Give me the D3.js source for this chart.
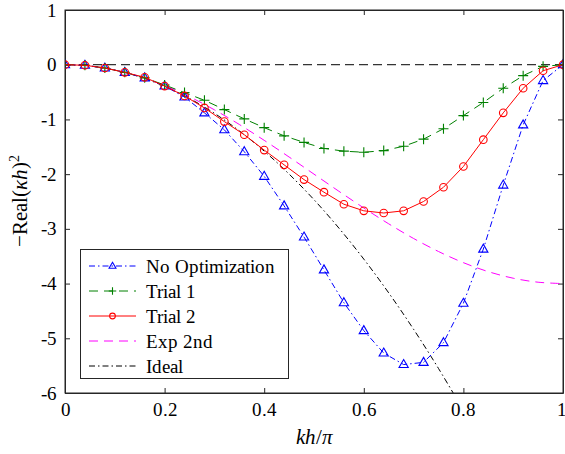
<!DOCTYPE html>
<html><head><meta charset="utf-8">
<script src="https://cdn.jsdelivr.net/npm/d3@7"></script>
<style>
@font-face{font-family:"ChartSerif";src:local("Liberation Serif"),local("LiberationSerif"),local("Times New Roman");font-style:normal;font-weight:400;}
@font-face{font-family:"ChartSerif";src:local("Liberation Serif Italic"),local("LiberationSerif-Italic"),local("Times New Roman Italic");font-style:italic;font-weight:400;}
body{margin:0;background:#fff}
#c text{font-family:"ChartSerif","Liberation Serif";}
</style>
</head><body>
<svg id="c" width="565" height="454" style="display:block;font-family:'Liberation Serif'"></svg>
<script>
const xMarks = [0,0.04,0.08,0.12,0.16,0.2,0.24,0.28,0.32,0.36,0.4,0.44,0.48,0.52,0.56,0.6,0.64,0.68,0.72,0.76,0.8,0.84,0.88,0.92,0.96,1.0];
const noOpt  = [0,-0.01,-0.06,-0.14,-0.24,-0.39,-0.59,-0.88,-1.19,-1.59,-2.04,-2.58,-3.15,-3.75,-4.35,-4.86,-5.27,-5.48,-5.44,-5.08,-4.36,-3.37,-2.20,-1.10,-0.29,0];
const trial1 = [0,-0.01,-0.06,-0.14,-0.24,-0.37,-0.51,-0.65,-0.82,-0.99,-1.15,-1.30,-1.42,-1.53,-1.58,-1.60,-1.57,-1.49,-1.36,-1.17,-0.93,-0.69,-0.43,-0.20,-0.03,0];
const trial2 = [0,-0.01,-0.06,-0.14,-0.23,-0.39,-0.57,-0.79,-1.04,-1.28,-1.56,-1.83,-2.10,-2.33,-2.55,-2.67,-2.71,-2.67,-2.50,-2.24,-1.86,-1.37,-0.88,-0.43,-0.11,0];
const xFine  = [0,0.05,0.1,0.15,0.2,0.25,0.3,0.35,0.4,0.45,0.5,0.55,0.6,0.65,0.7,0.75,0.8,0.85,0.9,0.95,1.0];
const exp2nd = [0,-0.0246,-0.0979,-0.218,-0.382,-0.586,-0.824,-1.092,-1.382,-1.687,-2.0,-2.313,-2.618,-2.908,-3.176,-3.414,-3.618,-3.782,-3.902,-3.975,-4.0];
const ideal  = [0,-0.0247,-0.0987,-0.222,-0.395,-0.617,-0.888,-1.209,-1.579,-1.999,-2.467,-2.986,-3.553,-4.170,-4.836,-5.552,-6.317];
const zeroLine = [0,0];
const zeroX = [0,1];
const xTicks = [0,0.2,0.4,0.6,0.8,1];
const yTicks = [1,0,-1,-2,-3,-4,-5,-6];
const legendNames = ["No Optimization","Trial 1","Trial 2","Exp 2nd","Ideal"];

const svg = d3.select("#c");
const L=65,R=563,T=10,B=393;
const x = d3.scaleLinear().domain([0,1]).range([L,R]);
const y = d3.scaleLinear().domain([-6,1]).range([B,T]);
const axisCol="#262626";

function txt(sel, size){
  return sel.attr("font-size",size).attr("fill","#000");
}

svg.append("defs").append("clipPath").attr("id","clip").append("rect")
  .attr("x",L).attr("y",T).attr("width",R-L).attr("height",B-T);

const fmt = d => d===0?"0":d===1?"1":(d<0?"-"+Math.abs(d):String(d));
const gx = svg.append("g").attr("transform",`translate(0,${B})`)
  .call(d3.axisBottom(x).tickValues(xTicks).tickSizeInner(-5).tickSizeOuter(0).tickPadding(10).tickFormat(d=>d===0?"0":d===1?"1":d3.format(".1f")(d)));
const gxt = svg.append("g").attr("transform",`translate(0,${T})`)
  .call(d3.axisTop(x).tickValues(xTicks).tickSizeInner(-5).tickSizeOuter(0).tickFormat(""));
const gy = svg.append("g").attr("transform",`translate(${L},0)`)
  .call(d3.axisLeft(y).tickValues(yTicks).tickSizeInner(-5).tickSizeOuter(0).tickPadding(8).tickFormat(fmt));
const gyr = svg.append("g").attr("transform",`translate(${R},0)`)
  .call(d3.axisRight(y).tickValues(yTicks).tickSizeInner(-5).tickSizeOuter(0).tickFormat(""));
[gx,gxt,gy,gyr].forEach(g=>{
  g.attr("font-family",null).attr("font-size",null);
  g.selectAll("path,line").attr("stroke",axisCol).attr("stroke-width",1);
  txt(g.selectAll("text"),19);
});
gx.selectAll(".tick text").filter(d=>d===1).attr("dx",-2);

const plot = svg.append("g").attr("clip-path","url(#clip)");
const line = d3.line().x(d=>x(d[0])).y(d=>y(d[1]));
const lineS = d3.line().x(d=>x(d[0])).y(d=>y(d[1])).curve(d3.curveCatmullRom);

plot.append("path").attr("d",line(zeroX.map((v,i)=>[v,zeroLine[i]])))
  .attr("fill","none").attr("stroke","#000").attr("stroke-width",1).attr("stroke-dasharray","9,5");

const series = [
 {name:"Ideal", xs:xFine, ys:ideal, color:"#000", dash:"6,3,1.5,3", curve:true},
 {name:"Exp 2nd", xs:xFine, ys:exp2nd, color:"#ff00ff", dash:"9,6", curve:true},
 {name:"No Optimization", xs:xMarks, ys:noOpt, color:"#0000ff", dash:"6,3,1.5,3", marker:"tri"},
 {name:"Trial 1", xs:xMarks, ys:trial1, color:"#008000", dash:"9,6", marker:"plus"},
 {name:"Trial 2", xs:xMarks, ys:trial2, color:"#ff0000", dash:null, marker:"circle"},
];
const triPath = "M0,-5 L4.6,3 L-4.6,3 Z";
const plusPath = "M-5,0 L5,0 M0,-5 L0,5";
function drawMarker(g, type, cx, cy, color, scale){
  scale = scale||1;
  if(type==="tri") g.append("path").attr("d",triPath).attr("transform",`translate(${cx},${cy}) scale(${scale})`).attr("fill","none").attr("stroke",color).attr("stroke-width",1.1/scale);
  if(type==="plus") g.append("path").attr("d",plusPath).attr("transform",`translate(${cx},${cy}) scale(${scale})`).attr("fill","none").attr("stroke",color).attr("stroke-width",1.1/scale);
  if(type==="circle") g.append("circle").attr("cx",cx).attr("cy",cy).attr("r",3.8*scale).attr("fill","none").attr("stroke",color).attr("stroke-width",1.1);
}
series.forEach(s=>{
  const pts = s.ys.map((v,i)=>[s.xs[i],v]);
  plot.append("path").attr("d",(s.curve?lineS:line)(pts)).attr("fill","none")
    .attr("stroke",s.color).attr("stroke-width",1).attr("stroke-dasharray",s.dash);
  if(s.marker){
    const mg = plot.append("g");
    pts.forEach(p=>drawMarker(mg,s.marker,x(p[0]),y(p[1]),s.color));
  }
});

svg.append("rect").attr("x",L).attr("y",T).attr("width",R-L).attr("height",B-T)
  .attr("fill","none").attr("stroke",axisCol).attr("stroke-width",1);

const lg = svg.append("g");
lg.append("rect").attr("x",80.5).attr("y",249.5).attr("width",208).attr("height",129)
  .attr("fill","#fff").attr("stroke","#262626").attr("stroke-width",1);
legendNames.forEach((n,i)=>{
  const s = series.find(d=>d.name===n);
  const yy = 266 + i*25;
  lg.append("line").attr("x1",89).attr("x2",136).attr("y1",yy).attr("y2",yy)
    .attr("stroke",s.color).attr("stroke-width",1).attr("stroke-dasharray",s.dash);
  if(s.marker) drawMarker(lg,s.marker,112.5,yy,s.color,0.75);
  txt(lg.append("text").attr("x",146).attr("y",yy+6.5).text(n),19);
});

const xl = txt(svg.append("text").attr("x",314).attr("y",444).attr("text-anchor","middle"),21);
xl.append("tspan").attr("font-style","italic").text("kh");
xl.append("tspan").text("/");
xl.append("tspan").attr("font-style","italic").text("π");

const yl = txt(svg.append("text").attr("transform","translate(27,201) rotate(-90)").attr("text-anchor","middle"),21);
yl.append("tspan").text("−Real(");
yl.append("tspan").attr("font-style","italic").text("κh");
yl.append("tspan").text(")");
yl.append("tspan").attr("dy",-8).attr("font-size",14).text("2");
</script></body></html>
